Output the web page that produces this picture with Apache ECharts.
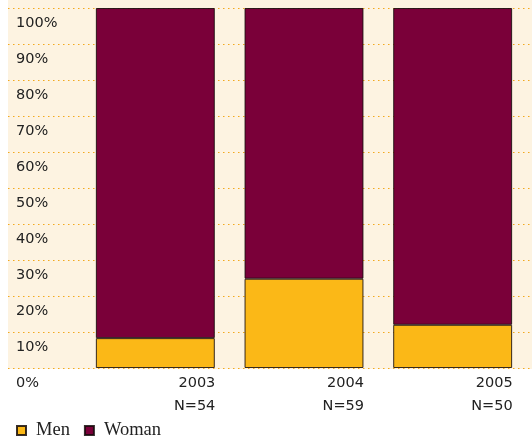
<!DOCTYPE html>
<html>
<head>
<meta charset="utf-8">
<script src="https://cdn.jsdelivr.net/npm/echarts@6/dist/echarts.min.js"></script>
<style>
  html, body { margin: 0; padding: 0; background: #fff; }
  #chart { width: 532px; height: 446px; }
</style>
</head>
<body>
<div id="chart"></div>
<script>
// Gender split per year, shares in percent
const years = ['2003', '2004', '2005'];
const sampleSizes = ['N=54', 'N=59', 'N=50'];
const menShare = [8.3, 24.8, 12.0];
const womanShare = [91.7, 75.2, 88.0];
const yTicks = [0, 10, 20, 30, 40, 50, 60, 70, 80, 90, 100];

const chart = echarts.init(document.getElementById('chart'));

const labelFont = '"DejaVu Sans", Verdana, sans-serif';
const labelSize = 14.5;
const barBorder = 'rgba(20,10,10,0.85)';

chart.setOption({
  animation: false,
  backgroundColor: '#ffffff',
  graphic: [{
    type: 'rect',
    z: -10,
    silent: true,
    shape: { x: 8, y: 0, width: 524, height: 369 },
    style: { fill: '#fdf3e1' }
  }],
  grid: [
    { left: 8, right: 0, top: 8, bottom: 78 },
    { left: 81, right: 5, top: 8, bottom: 78 }
  ],
  xAxis: [
    { type: 'category', gridIndex: 0, data: years, show: false },
    {
      type: 'category', gridIndex: 1, data: years,
      axisLine: { show: false }, axisTick: { show: false },
      axisLabel: {
        margin: 4,
        interval: 0,
        formatter: (v, i) => '{a|' + v + '}\n{a|' + sampleSizes[i] + '}',
        rich: {
          a: {
            width: 120, align: 'right', lineHeight: 23,
            fontFamily: labelFont, fontSize: labelSize, color: '#222'
          }
        }
      }
    }
  ],
  yAxis: [
    {
      type: 'value', gridIndex: 0, min: yTicks[0], max: yTicks[yTicks.length - 1], interval: 10,
      axisLine: { show: false }, axisTick: { show: false },
      splitLine: { show: true, lineStyle: { color: '#f2a81d', type: [1.5, 3.5], width: 1 } },
      axisLabel: {
        inside: true, margin: 8,
        verticalAlign: 'top', padding: [8, 0, 0, 0], lineHeight: 15,
        fontFamily: labelFont, fontSize: labelSize, color: '#222',
        formatter: v => v + '%'
      }
    },
    {
      type: 'value', gridIndex: 1, min: yTicks[0], max: yTicks[yTicks.length - 1], interval: 10,
      show: false, splitLine: { show: false }
    }
  ],
  legend: {
    left: 11, bottom: 1,
    icon: 'rect', itemWidth: 9, itemHeight: 9, itemGap: 14,
    textStyle: {
      fontFamily: '"Liberation Serif", "DejaVu Serif", serif', fontSize: 18.5, color: '#222',
      padding: [0, 0, 0, 5]
    },
    data: ['Men', 'Woman']
  },
  series: [
    {
      name: 'Men', type: 'bar', stack: 'total', xAxisIndex: 1, yAxisIndex: 1,
      barCategoryGap: '20%', data: menShare,
      itemStyle: { color: '#fbb817', borderColor: barBorder, borderWidth: 1 }
    },
    {
      name: 'Woman', type: 'bar', stack: 'total', xAxisIndex: 1, yAxisIndex: 1,
      barCategoryGap: '20%', data: womanShare,
      itemStyle: { color: '#7a0039', borderColor: barBorder, borderWidth: 1 }
    }
  ]
});
</script>
</body>
</html>
